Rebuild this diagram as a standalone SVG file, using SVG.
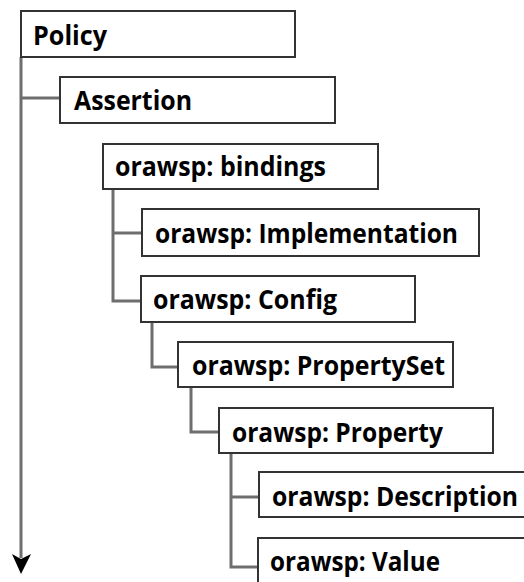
<svg xmlns="http://www.w3.org/2000/svg" width="524" height="582" viewBox="0 0 524 582">
<style>
.box{fill:#fff;stroke:#333;stroke-width:2}
.lbl{font-family:"Open Sans","Liberation Sans",sans-serif;font-weight:700;font-size:26px;fill:#000}
.con{fill:none;stroke:#6e6e6e;stroke-width:3}
.head{fill:#000}
</style>
<rect width="524" height="582" fill="#fff"/>
<g id="connectors">
<path class="con" d="M21,57 V558"/>
<polygon class="head" points="12,554 21,559 31,554 21,574"/>
<path class="con" d="M21,98 H60"/>
<path class="con" d="M113,189 V301 H141 M113,233 H142"/>
<path class="con" d="M152,322 V367 H178"/>
<path class="con" d="M191,387 V432 H219"/>
<path class="con" d="M231,453 V567 H258 M231,497 H259"/>
</g>
<g id="policy"><rect class="box" x="21" y="11" width="274" height="46"/><text class="lbl" x="33" y="45" textLength="74" lengthAdjust="spacingAndGlyphs">Policy</text></g>
<g id="assertion"><rect class="box" x="60" y="77" width="275" height="46"/><text class="lbl" x="74" y="110" textLength="118" lengthAdjust="spacingAndGlyphs">Assertion</text></g>
<g id="bindings"><rect class="box" x="103" y="144" width="275" height="45"/><text class="lbl" x="115" y="176" textLength="211" lengthAdjust="spacingAndGlyphs">orawsp: bindings</text></g>
<g id="implementation"><rect class="box" x="142" y="209" width="337" height="47"/><text class="lbl" x="155" y="243" textLength="303" lengthAdjust="spacingAndGlyphs">orawsp: Implementation</text></g>
<g id="config"><rect class="box" x="141" y="276" width="274" height="46"/><text class="lbl" x="153" y="309" textLength="184" lengthAdjust="spacingAndGlyphs">orawsp: Config</text></g>
<g id="propertyset"><rect class="box" x="178" y="342" width="275" height="45"/><text class="lbl" x="192" y="375" textLength="253" lengthAdjust="spacingAndGlyphs">orawsp: PropertySet</text></g>
<g id="property"><rect class="box" x="219" y="408" width="274" height="45"/><text class="lbl" x="232" y="442" textLength="211" lengthAdjust="spacingAndGlyphs">orawsp: Property</text></g>
<g id="description"><rect class="box" x="259" y="472" width="280" height="45"/><text class="lbl" x="272" y="506" textLength="246" lengthAdjust="spacingAndGlyphs">orawsp: Description</text></g>
<g id="value"><rect class="box" x="258" y="538" width="280" height="60"/><text class="lbl" x="270" y="571" textLength="170" lengthAdjust="spacingAndGlyphs">orawsp: Value</text></g>
</svg>
